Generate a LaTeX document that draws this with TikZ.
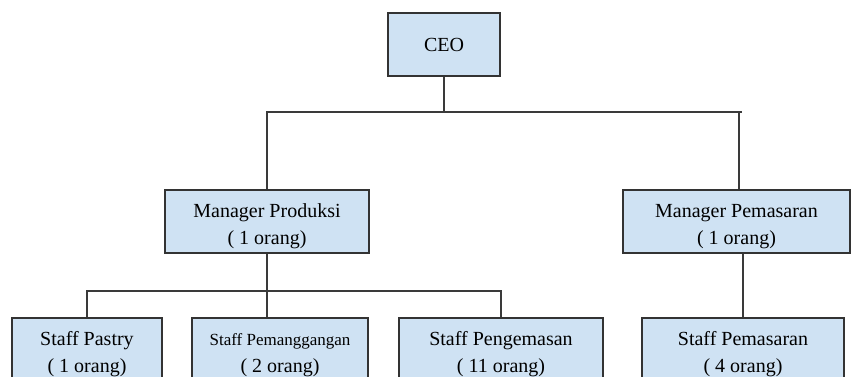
\documentclass[tikz,border=0pt]{standalone}
\usepackage{fontspec}
\setmainfont{Liberation Serif}
\definecolor{boxfill}{HTML}{CFE2F3}
\definecolor{boxline}{HTML}{333333}
\definecolor{connline}{HTML}{3A3A3A}
\newcommand\orgstrut{\rule{0pt}{23pt}}
\begin{document}
\begin{tikzpicture}[x=1pt,y=-1pt,
  orgbox/.style={draw=boxline, fill=boxfill, line width=1.2pt, rectangle,
    inner sep=0pt, minimum height=63pt, align=center,
    font=\fontsize{20}{26.5}\selectfont},
  conn/.style={draw=connline, line width=1.2pt}]
\useasboundingbox (0,0) rectangle (852,377);
\fill[white] (0,0) rectangle (852,377);
\clip (0,0) rectangle (852,377);

\node[orgbox, minimum width=112pt] (ceo) at (444,44.5) {CEO};
\node[orgbox, minimum width=204pt] (mp) at (267,221.5) {\orgstrut Manager Produksi\\( 1 orang)};
\node[orgbox, minimum width=227pt] (mm) at (736.5,221.5) {\orgstrut Manager Pemasaran\\( 1 orang)};

\node[orgbox, minimum width=150pt] (s1) at (87,349.5) {\orgstrut Staff Pastry\\( 1 orang)};
\node[orgbox, minimum width=176pt] (s2) at (280,349.5) {\orgstrut{\fontsize{17}{26.5}\selectfont Staff Pemanggangan}\\( 2 orang)};
\node[orgbox, minimum width=204pt] (s3) at (501,349.5) {\orgstrut Staff Pengemasan\\( 11 orang)};
\node[orgbox, minimum width=202pt] (s4) at (743,349.5) {\orgstrut Staff Pemasaran\\( 4 orang)};

\coordinate (tR) at (742,112);
\coordinate (bR) at (501,291);

\draw[conn] (ceo.south) -- (ceo.south |- tR);
\draw[conn] (mp.north) |- (tR);
\draw[conn] ([xshift=2.5pt]mm.north) -- ([xshift=2.5pt]mm.north |- tR);

\draw[conn] (mp.south) -- (mp.south |- s2.north);
\draw[conn] (s1.north) |- (bR) -- (s3.north);
\draw[conn] (s4.north) -- (s4.north |- mm.south);
\end{tikzpicture}
\end{document}
